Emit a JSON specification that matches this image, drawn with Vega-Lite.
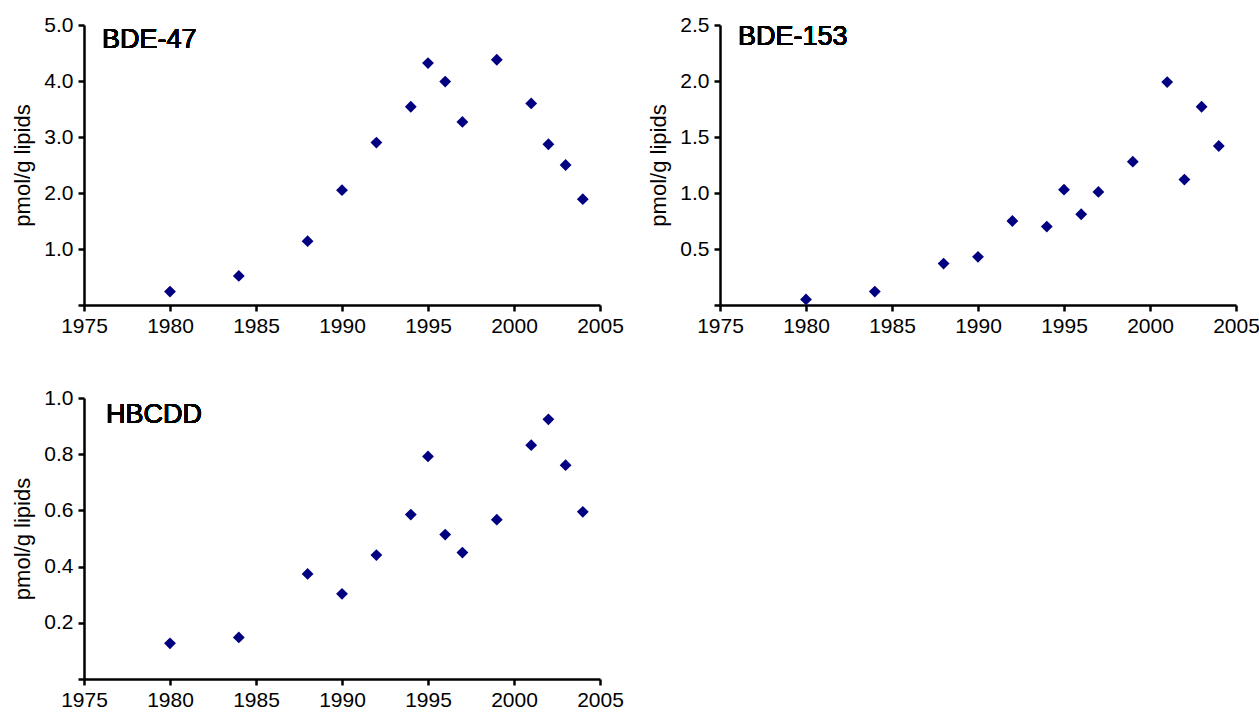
{
  "$schema": "https://vega.github.io/schema/vega-lite/v6.json",
  "padding": {"left": 11, "top": 14, "right": 0, "bottom": 0},
  "background": "white",
  "config": {
    "font": "Liberation Sans",
    "view": {"stroke": null},
    "axis": {
      "grid": false,
      "domainColor": "black",
      "domainWidth": 2.5,
      "tickColor": "black",
      "tickWidth": 2.5,
      "tickSize": 6,
      "labelFont": "Liberation Sans",
      "labelFontSize": 21,
      "labelColor": "black",
      "labelFlush": false,
      "labelOverlap": false,
      "labelBound": false,
      "titleFont": "Liberation Sans",
      "titleFontSize": 22,
      "titleFontWeight": "normal",
      "titleColor": "black"
    },
    "axisX": {"labelPadding": 4},
    "axisY": {"labelPadding": 5, "titlePadding": 9}
  },
  "datasets": {
    "pts": [
      {"compound": "BDE-47", "year": 1980, "value": 0.24},
      {"compound": "BDE-47", "year": 1984, "value": 0.52},
      {"compound": "BDE-47", "year": 1988, "value": 1.14},
      {"compound": "BDE-47", "year": 1990, "value": 2.05},
      {"compound": "BDE-47", "year": 1992, "value": 2.90},
      {"compound": "BDE-47", "year": 1994, "value": 3.54},
      {"compound": "BDE-47", "year": 1995, "value": 4.32},
      {"compound": "BDE-47", "year": 1996, "value": 3.99},
      {"compound": "BDE-47", "year": 1997, "value": 3.27},
      {"compound": "BDE-47", "year": 1999, "value": 4.38},
      {"compound": "BDE-47", "year": 2001, "value": 3.60},
      {"compound": "BDE-47", "year": 2002, "value": 2.87},
      {"compound": "BDE-47", "year": 2003, "value": 2.50},
      {"compound": "BDE-47", "year": 2004, "value": 1.89},
      {"compound": "BDE-153", "year": 1980, "value": 0.05},
      {"compound": "BDE-153", "year": 1984, "value": 0.12},
      {"compound": "BDE-153", "year": 1988, "value": 0.37},
      {"compound": "BDE-153", "year": 1990, "value": 0.43},
      {"compound": "BDE-153", "year": 1992, "value": 0.75},
      {"compound": "BDE-153", "year": 1994, "value": 0.70},
      {"compound": "BDE-153", "year": 1995, "value": 1.03},
      {"compound": "BDE-153", "year": 1996, "value": 0.81},
      {"compound": "BDE-153", "year": 1997, "value": 1.01},
      {"compound": "BDE-153", "year": 1999, "value": 1.28},
      {"compound": "BDE-153", "year": 2001, "value": 1.99},
      {"compound": "BDE-153", "year": 2002, "value": 1.12},
      {"compound": "BDE-153", "year": 2003, "value": 1.77},
      {"compound": "BDE-153", "year": 2004, "value": 1.42},
      {"compound": "HBCDD", "year": 1980, "value": 0.127},
      {"compound": "HBCDD", "year": 1984, "value": 0.148},
      {"compound": "HBCDD", "year": 1988, "value": 0.374},
      {"compound": "HBCDD", "year": 1990, "value": 0.303},
      {"compound": "HBCDD", "year": 1992, "value": 0.441},
      {"compound": "HBCDD", "year": 1994, "value": 0.585},
      {"compound": "HBCDD", "year": 1995, "value": 0.792},
      {"compound": "HBCDD", "year": 1996, "value": 0.514},
      {"compound": "HBCDD", "year": 1997, "value": 0.450},
      {"compound": "HBCDD", "year": 1999, "value": 0.567},
      {"compound": "HBCDD", "year": 2001, "value": 0.832},
      {"compound": "HBCDD", "year": 2002, "value": 0.924},
      {"compound": "HBCDD", "year": 2003, "value": 0.761},
      {"compound": "HBCDD", "year": 2004, "value": 0.595}
    ]
  },
  "bounds": "flush",
  "spacing": {"row": 93, "column": 120},
  "columns": 2,
  "concat": [
    {
      "width": 516,
      "height": 280,
      "data": {"name": "pts"},
      "transform": [{"filter": "datum.compound === 'BDE-47'"}],
      "layer": [
        {
          "mark": {"type": "point", "shape": "diamond", "filled": true, "size": 140, "color": "#000080", "opacity": 1},
          "encoding": {
            "x": {"field": "year", "type": "quantitative", "title": null,
              "scale": {"domain": [1975, 2005], "nice": false, "zero": false},
              "axis": {"values": [1975, 1980, 1985, 1990, 1995, 2000, 2005], "format": "d"}},
            "y": {"field": "value", "type": "quantitative", "title": "pmol/g lipids",
              "scale": {"domain": [0, 5], "nice": false},
              "axis": {"values": [0, 1, 2, 3, 4, 5], "labelExpr": "datum.value == 0 ? '' : format(datum.value, '.1f')"}}
          }
        },
        {
          "mark": {"type": "text", "text": "BDE-47", "align": "left", "baseline": "middle", "fontSize": 27, "font": "Liberation Sans", "fontWeight": "normal", "color": "black"},
          "encoding": {"x": {"datum": 1976.05}, "y": {"datum": 4.73}}
        }
      ]
    },
    {
      "width": 516,
      "height": 280,
      "data": {"name": "pts"},
      "transform": [{"filter": "datum.compound === 'BDE-153'"}],
      "layer": [
        {
          "mark": {"type": "point", "shape": "diamond", "filled": true, "size": 140, "color": "#000080", "opacity": 1},
          "encoding": {
            "x": {"field": "year", "type": "quantitative", "title": null,
              "scale": {"domain": [1975, 2005], "nice": false, "zero": false},
              "axis": {"values": [1975, 1980, 1985, 1990, 1995, 2000, 2005], "format": "d"}},
            "y": {"field": "value", "type": "quantitative", "title": "pmol/g lipids",
              "scale": {"domain": [0, 2.5], "nice": false},
              "axis": {"values": [0, 0.5, 1, 1.5, 2, 2.5], "labelExpr": "datum.value == 0 ? '' : format(datum.value, '.1f')"}}
          }
        },
        {
          "mark": {"type": "text", "text": "BDE-153", "align": "left", "baseline": "middle", "fontSize": 27, "font": "Liberation Sans", "fontWeight": "normal", "color": "black"},
          "encoding": {"x": {"datum": 1976.05}, "y": {"datum": 2.39}}
        }
      ]
    },
    {
      "width": 516,
      "height": 281,
      "data": {"name": "pts"},
      "transform": [{"filter": "datum.compound === 'HBCDD'"}],
      "layer": [
        {
          "mark": {"type": "point", "shape": "diamond", "filled": true, "size": 140, "color": "#000080", "opacity": 1},
          "encoding": {
            "x": {"field": "year", "type": "quantitative", "title": null,
              "scale": {"domain": [1975, 2005], "nice": false, "zero": false},
              "axis": {"values": [1975, 1980, 1985, 1990, 1995, 2000, 2005], "format": "d"}},
            "y": {"field": "value", "type": "quantitative", "title": "pmol/g lipids",
              "scale": {"domain": [0, 1], "nice": false},
              "axis": {"values": [0, 0.2, 0.4, 0.6, 0.8, 1.0], "labelExpr": "datum.value == 0 ? '' : format(datum.value, '.1f')"}}
          }
        },
        {
          "mark": {"type": "text", "text": "HBCDD", "align": "left", "baseline": "middle", "fontSize": 27, "font": "Liberation Sans", "fontWeight": "normal", "color": "black"},
          "encoding": {"x": {"datum": 1976.28}, "y": {"datum": 0.94}}
        }
      ]
    }
  ]
}
